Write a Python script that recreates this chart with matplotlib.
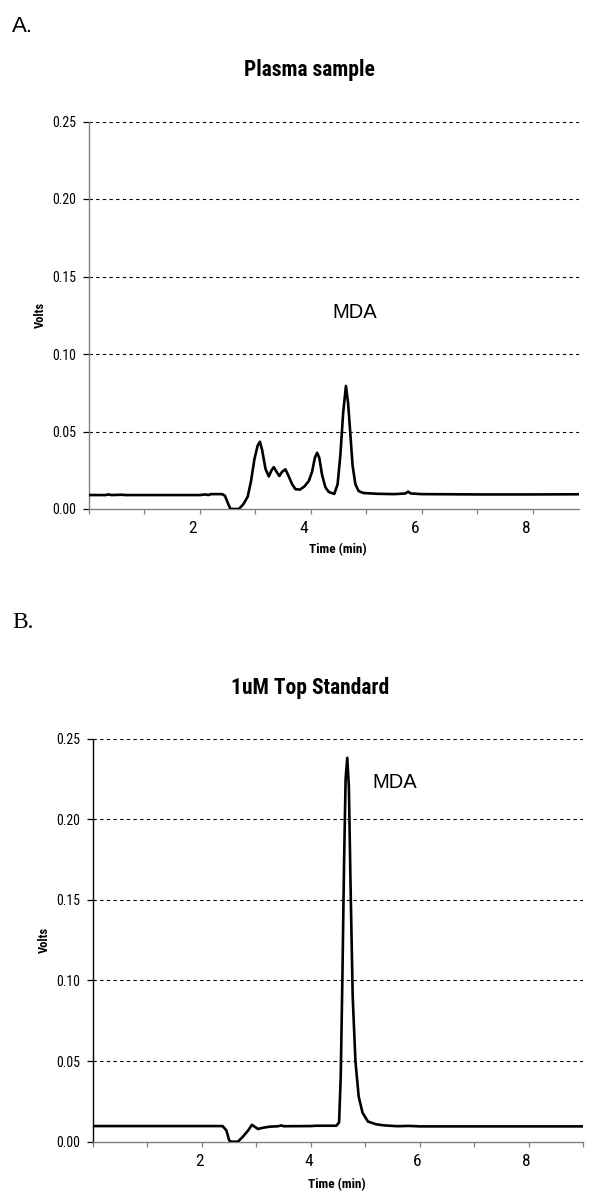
import matplotlib
matplotlib.use("Agg")
import matplotlib.pyplot as plt
from matplotlib import font_manager
from matplotlib.ticker import MultipleLocator, FuncFormatter
from matplotlib.transforms import ScaledTranslation

# ---------------- data ----------------
time_a = [0.00, 0.30, 0.35, 0.40, 0.60, 0.65, 1.00, 2.00, 2.10, 2.15, 2.20, 2.40,
          2.45, 2.50, 2.55, 2.70, 2.78, 2.86, 2.92, 2.98, 3.04, 3.08, 3.12, 3.18,
          3.24, 3.29, 3.33, 3.38, 3.43, 3.48, 3.54, 3.60, 3.66, 3.72, 3.80, 3.88,
          3.96, 4.02, 4.07, 4.11, 4.15, 4.20, 4.26, 4.32, 4.42, 4.48, 4.53, 4.58,
          4.63, 4.67, 4.71, 4.75, 4.80, 4.86, 4.95, 5.20, 5.50, 5.70, 5.75, 5.80,
          6.00, 7.00, 8.00, 8.85]
volts_a = [0.0090, 0.0090, 0.0094, 0.0090, 0.0092, 0.0090, 0.0090, 0.0090, 0.0094, 0.0090,
           0.0096, 0.0096, 0.0085, 0.0040, 0.0000, 0.0000, 0.0030, 0.0080, 0.0180, 0.0320,
           0.0410, 0.0434, 0.0380, 0.0260, 0.0210, 0.0250, 0.0270, 0.0240, 0.0213, 0.0240,
           0.0256, 0.0210, 0.0160, 0.0128, 0.0125, 0.0145, 0.0180, 0.0240, 0.0330, 0.0363,
           0.0330, 0.0220, 0.0140, 0.0110, 0.0097, 0.0160, 0.0350, 0.0620, 0.0794, 0.0680,
           0.0480, 0.0280, 0.0160, 0.0115, 0.0103, 0.0098, 0.0096, 0.0100, 0.0112, 0.0100,
           0.0096, 0.0094, 0.0094, 0.0095]

time_b = [0.00, 2.38, 2.45, 2.50, 2.53, 2.66, 2.75, 2.85, 2.92, 2.96, 3.03, 3.10,
          3.24, 3.40, 3.46, 3.50, 4.00, 4.10, 4.47, 4.52, 4.55, 4.58, 4.61, 4.64,
          4.67, 4.70, 4.73, 4.77, 4.82, 4.88, 4.95, 5.05, 5.20, 5.35, 5.60, 5.80,
          6.00, 9.00]
volts_b = [0.0097, 0.0097, 0.0070, 0.0010, 0.0000, 0.0000, 0.0030, 0.0070, 0.0105, 0.0095,
           0.0079, 0.0085, 0.0093, 0.0096, 0.0101, 0.0096, 0.0097, 0.0099, 0.0099, 0.0120,
           0.0400, 0.1000, 0.1700, 0.2250, 0.2380, 0.2200, 0.1600, 0.0900, 0.0500, 0.0280,
           0.0180, 0.0125, 0.0108, 0.0101, 0.0096, 0.0098, 0.0095, 0.0095]

y_ticks = [0.00, 0.05, 0.10, 0.15, 0.20, 0.25]
grid_levels = [0.05, 0.10, 0.15, 0.20, 0.25]
titles = ["Plasma sample", "1uM Top Standard"]
panel_letters = ["A.", "B."]
peak_label = "MDA"
mda_pos_a = (4.78, 0.127)
mda_pos_b = (5.54, 0.223)

# ---------------- fonts ----------------
fl = font_manager.fontManager.ttflist
names = {f.name for f in fl}
cond_family, cond_stretch = "Liberation Sans", "normal"
if "Liberation Sans Narrow" in names:
    cond_family = "Liberation Sans Narrow"
elif "Roboto Condensed" in names:
    cond_family = "Roboto Condensed"
elif any(f.name == "DejaVu Sans" and f.stretch == "condensed" for f in fl):
    cond_family, cond_stretch = "DejaVu Sans", "condensed"
regular = "Liberation Sans"
serif = "Liberation Serif"

def cfont(size, weight="normal"):
    return dict(family=[cond_family, "DejaVu Sans"], stretch=cond_stretch,
                size=size, weight=weight)

fig = plt.figure(figsize=(6.0, 11.95), dpi=100)
W, H = 600, 1195

def ax_rect(l, t, r, b):
    return [l / W, 1 - b / H, (r - l) / W, (b - t) / H]

ax_a = fig.add_axes(ax_rect(89, 121.5, 579, 509))
ax_b = fig.add_axes(ax_rect(93, 738.5, 583, 1141.7))

def even_fmt(v, pos):
    iv = int(round(v))
    if abs(v - iv) < 1e-6 and iv % 2 == 0 and iv != 0:
        return str(iv)
    return ""

def style(ax, t, v, xmax, left_color, xshift_px):
    ax.plot(t, v, color="black", lw=1.9, solid_joinstyle="round", zorder=3)
    ax.set_xlim(0, xmax)
    ax.set_ylim(0, 0.25)
    for g in grid_levels:
        ax.axhline(g, color="black", lw=0.8, ls=(0, (3, 3)), zorder=1)
    ax.set_yticks(y_ticks)
    ax.yaxis.set_major_formatter(FuncFormatter(lambda v, p: f"{v:.2f}"))
    ax.xaxis.set_major_locator(MultipleLocator(1))
    ax.xaxis.set_major_formatter(FuncFormatter(even_fmt))
    for s in ("top", "right"):
        ax.spines[s].set_visible(False)
    ax.spines["left"].set_color(left_color)
    ax.spines["bottom"].set_color("#808080")
    ax.spines["left"].set_linewidth(1.0)
    ax.spines["bottom"].set_linewidth(1.0)
    ax.tick_params(axis="y", direction="out", length=4, width=0.9, colors="black", pad=5)
    ax.tick_params(axis="x", direction="out", length=3.5, width=0.9, colors="#808080",
                   labelcolor="black", pad=5)
    for lab in ax.get_yticklabels():
        lab.set(**cfont(10))
    for lab in ax.get_xticklabels():
        lab.set(**cfont(12.5))
        lab.set_transform(lab.get_transform() + ScaledTranslation(xshift_px / 100, 0, fig.dpi_scale_trans))
    ax.set_ylabel("Volts", fontdict=cfont(9, "bold"), labelpad=4)
    ax.set_xlabel("Time (min)", fontdict=cfont(9.5, "bold"))
    ax.set_facecolor("none")

style(ax_a, time_a, volts_a, 8.83, "#808080", -7)
style(ax_b, time_b, volts_b, 9.0, "black", -2)
ax_a.xaxis.set_label_coords((338 - 89) / 490, -0.087)
ax_b.xaxis.set_label_coords((337 - 93) / 490, -0.091)

ax_a.text(mda_pos_a[0], mda_pos_a[1], peak_label, fontsize=14.5, family=regular,
          ha="center", va="center")
ax_b.text(mda_pos_b[0], mda_pos_b[1], peak_label, fontsize=14.5, family=regular,
          ha="center", va="center")

fig.text(309 / W, 1 - 70 / H, titles[0], fontdict=cfont(15.5, "bold"), ha="center", va="center")
fig.text(310 / W, 1 - 688 / H, titles[1], fontdict=cfont(15.5, "bold"), ha="center", va="center")
fig.text(12 / W, 1 - 27 / H, panel_letters[0], fontsize=16, family=regular,
         ha="left", va="center")
fig.text(12 / W, 1 - 622 / H, panel_letters[1], fontsize=17, family=serif,
         ha="left", va="center")

fig.savefig("out.png", dpi=100, facecolor="white")
